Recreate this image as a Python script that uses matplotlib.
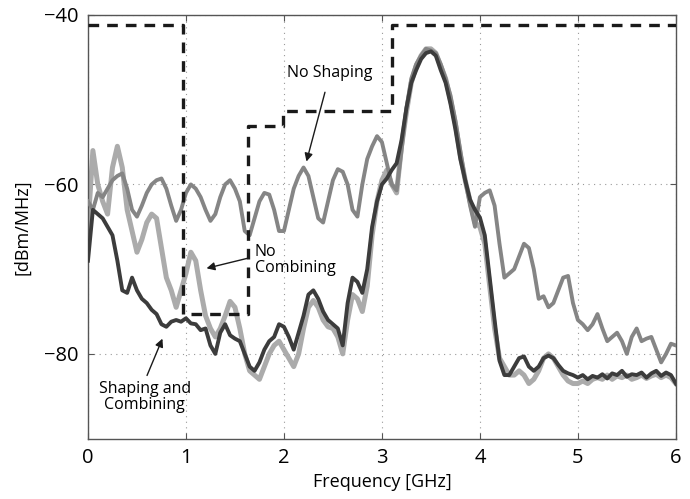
import numpy as np
import matplotlib
matplotlib.use("Agg")
import matplotlib.pyplot as plt

freq = [round(0.05 * i, 2) for i in range(121)]

shaping_combining = [
    -69, -63, -63.5, -64, -65, -66, -69, -72.5, -72.8, -71,
    -72.5, -73.5, -74, -74.8, -75.3, -76.5, -76.8, -76.2, -76, -76.2,
    -75.8, -76.4, -76.5, -77.2, -77, -79, -80, -77.5, -76.5, -77.8,
    -78.2, -78.5, -80, -81.5, -82, -81, -79.5, -78.5, -78, -76.5,
    -76.8, -78, -79.5, -77.5, -75.5, -73, -72.5, -73.5, -75, -76,
    -76.5, -77, -79, -74, -71, -71.5, -72.8, -70, -65, -62,
    -60, -59.3, -58.3, -57.5, -54.8, -51, -48, -46.5, -45.2, -44.5,
    -44.3, -44.8, -46.5, -48, -50.5, -53.5, -57, -59.5, -61.8, -63,
    -63.9, -66, -71, -76, -80.8, -82.5, -82.5, -81.5, -80.5, -80.3,
    -81.5, -82, -81.5, -80.5, -80.2, -80.5, -81.3, -82, -82.3, -82.5,
    -82.8, -82.5, -83, -82.6, -82.8, -82.4, -82.9, -82.3, -82.5, -82,
    -82.7, -82.4, -82.5, -82.2, -82.8, -82.3, -82, -82.6, -82.2, -82.5,
    -83.5,
]

no_combining = [
    -65, -56, -60, -62, -63.5, -58, -55.5, -58, -63, -65.5,
    -68, -66.5, -64.5, -63.5, -64, -67.5, -71, -72.5, -74.5, -72.5,
    -70.5, -68, -69, -72.5, -75.5, -77, -78, -77, -75.5, -73.8,
    -74.5, -77, -80, -82, -82.5, -83, -81.5, -80, -79, -78.5,
    -79.5, -80.5, -81.5, -80, -77, -74.5, -73.7, -74.5, -76, -76.8,
    -77, -78, -80, -76, -73, -73.5, -75, -72, -66, -62,
    -59.5, -58.3, -60, -61, -55.5, -51.5, -48, -46, -44.8, -44,
    -44, -44.5, -46, -47.5, -50, -52.8, -56.5, -59.5, -62, -64.5,
    -65, -67, -72, -77, -80.5, -81.5, -82.5, -82.5, -82, -82.5,
    -83.5, -83, -82, -80.5, -80, -80.5, -81.5, -82.5, -83.2, -83.5,
    -83.5, -83.2, -83.5, -83, -82.8, -83, -82.5, -83, -82.6, -82.8,
    -82.5, -83, -82.8, -82.5, -82.9, -82.6, -82.4, -82.8, -82.5, -82.8,
    -83.5,
]

no_shaping = [
    -62, -63, -61, -61.5, -60.5, -59.5, -59, -58.7, -60.5, -63,
    -63.8, -62.5, -61, -60, -59.5, -59.3, -60.5, -62.5, -64.3, -63,
    -61, -60, -60.5, -61.5, -63, -64.3, -63.5, -61.5, -60, -59.5,
    -60.5, -62, -65.5, -66, -64, -62, -61, -61.2, -63, -65.5,
    -65.5, -63, -60.5, -59, -58, -59, -61.5, -64, -64.5, -62,
    -59.5, -58.2, -58.5, -60, -63, -63.8, -60, -57, -55.5, -54.3,
    -55, -57.5, -60, -60.7, -56, -51, -47.5, -45.8, -44.8, -44,
    -44.2, -44.5, -45.8, -47.5, -49.5, -52.5, -56, -59.5, -62.5, -65,
    -61.5, -61, -60.7, -62.5, -67, -71, -70.5, -70, -68.5, -67,
    -67.5, -70, -73.5, -73.2, -74.5, -74, -72.5, -71, -70.8, -74,
    -76, -76.5, -77.2, -76.5, -75.3, -77, -78.5, -78, -77.5, -78.5,
    -80, -78, -77, -78.5, -78.2, -78, -79.5, -81, -80, -78.8,
    -79,
]

mask_freq = [0, 0.97, 0.97, 1.63, 1.63, 1.99, 1.99, 3.1, 3.1, 6.0]
mask_level = [-41.2, -41.2, -75.3, -75.3, -53.1, -53.1, -51.3, -51.3, -41.2, -41.2]

plt.rcParams['font.family'] = ['Open Sans', 'DejaVu Sans']

fig = plt.figure(figsize=(6.9, 4.99), dpi=100)
ax = fig.add_axes([0.1275, 0.121, 0.852, 0.849])

ax.plot(freq, no_shaping, color='#858585', lw=2.8, zorder=3)
ax.plot(freq, no_combining, color='#ababab', lw=3.6, zorder=2)
ax.plot(freq, shaping_combining, color='#3c3c3c', lw=2.8, zorder=4)
ax.plot(mask_freq, mask_level, color='#1a1a1a', lw=2.4, ls=(0, (3.2, 2.4)), zorder=5)

ax.set_xlim(0, 6)
ax.set_ylim(-90, -40)
ax.set_xticks([0, 1, 2, 3, 4, 5, 6])
ax.set_yticks([-80, -60, -40])
ax.grid(True, color='#999999', ls=(0, (1, 4)), lw=0.8)
ax.tick_params(direction='in', top=True, right=True, labelsize=14.5, length=4,
               color='#555555', pad=7)
for s in ax.spines.values():
    s.set_color('#555555')
    s.set_linewidth(1.0)

ax.set_xlabel('Frequency [GHz]', fontsize=13, labelpad=3)
ax.set_ylabel('[dBm/MHz]', fontsize=13, labelpad=9)

ax.annotate('No Shaping', xy=(2.23, -57.3), xytext=(2.47, -46.9),
            ha='center', va='center', fontsize=11.5,
            arrowprops=dict(arrowstyle='-|>', color='#1a1a1a', lw=1.0,
                            mutation_scale=12, shrinkA=6, shrinkB=0))
ax.annotate('No\nCombining', xy=(1.21, -69.9), xytext=(1.70, -68.9),
            ha='left', va='center', fontsize=11.5, linespacing=1.05,
            arrowprops=dict(arrowstyle='-|>', color='#1a1a1a', lw=1.0,
                            mutation_scale=12, shrinkA=2, shrinkB=0,
                            relpos=(0.0, 0.6)))
ax.annotate('Shaping and\nCombining', xy=(0.76, -78.2), xytext=(0.58, -85.1),
            ha='center', va='center', fontsize=11.5, linespacing=1.05,
            arrowprops=dict(arrowstyle='-|>', color='#1a1a1a', lw=1.0,
                            mutation_scale=12, shrinkA=2, shrinkB=0,
                            relpos=(0.5, 1.0)))

fig.savefig('out.png', dpi=100)
